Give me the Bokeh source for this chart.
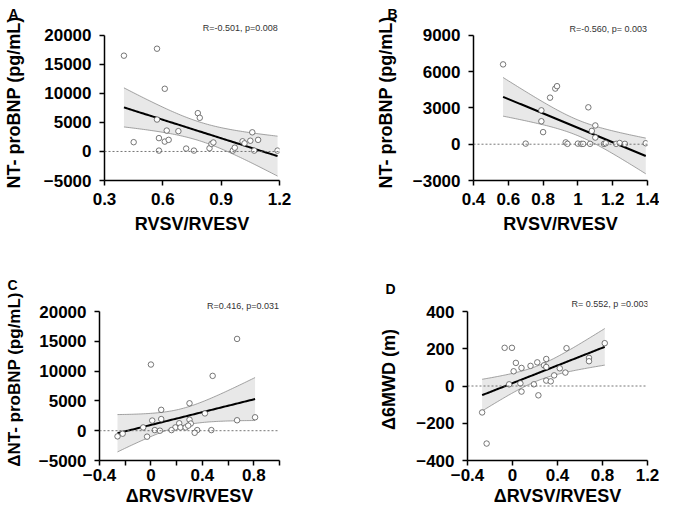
import numpy as np
from bokeh.plotting import figure
from bokeh.layouts import column, row
from bokeh.models import Span, Label, FixedTicker, Range1d
from bokeh.embed import file_html
from bokeh.resources import INLINE

# ---------------- data ----------------
A_x = [0.40, 0.57, 0.61, 0.78, 0.79, 0.57, 0.45, 0.58, 0.62, 0.61, 0.63, 0.68, 0.58, 0.72,
       0.76, 0.84, 0.85, 0.86, 0.96, 0.97, 1.01, 1.02, 1.05, 1.06, 1.09, 1.07, 1.19]
A_y = [16500, 17700, 10800, 6600, 5800, 5500, 1600, 2300, 3600, 1700, 2000, 3500, 150, 500,
       150, 550, 1300, 1550, 150, 650, 1750, 1400, 1850, 3300, 2000, 150, 150]

B_x = [0.57, 0.84, 0.87, 0.88, 0.79, 0.79, 0.80, 0.70, 0.93, 0.94, 1.00, 1.02, 1.03, 1.06,
       1.07, 1.08, 1.10, 1.10, 1.15, 1.16, 1.22, 1.24, 1.27, 1.39]
B_y = [6600, 3850, 4600, 4800, 2800, 1900, 1000, 50, 150, 30, 50, 30, 30, 3050,
       30, 1100, 1550, 550, 30, 80, 30, 100, 30, 80]

C_x = [0.67, 0.00, 0.48, 0.30, 0.08, 0.42, 0.01, 0.08, 0.67, 0.81, 0.30, 0.22, 0.31, 0.19,
       0.23, 0.27, 0.29, 0.16, 0.36, 0.34, 0.47, 0.03, 0.07, -0.06, -0.03, -0.26, -0.22]
C_y = [15400, 11100, 9200, 4600, 3500, 2900, 1700, 1950, 1750, 2250, 1850, 1250, 1200, 550,
       550, 550, 850, 100, 100, -350, 100, 100, 0, 550, -1000, -950, -500]

D_x = [-0.27, -0.23, -0.07, -0.005, -0.03, 0.01, 0.03, 0.07, 0.08, 0.08, 0.16, 0.19, 0.22,
       0.23, 0.28, 0.30, 0.30, 0.30, 0.34, 0.37, 0.42, 0.47, 0.48, 0.68, 0.68, 0.82]
D_y = [-142, -309, 205, 205, 9, 79, 124, 14, -30, 97, 108, 9, 127,
       -50, 111, 145, 102, 29, 25, 57, 95, 72, 203, 151, 133, 230]

A_xticks = [0.3, 0.6, 0.9, 1.2]
B_xticks = [0.4, 0.6, 0.8, 1.0, 1.2, 1.4]
C_xticks = [-0.4, 0.0, 0.4, 0.8]
C_xminor = [-0.2, 0.2, 0.6, 1.0]
D_xticks = [-0.4, 0.0, 0.4, 0.8, 1.2]
A_yticks = [-5000, 0, 5000, 10000, 15000, 20000]
B_yticks = [-3000, 0, 3000, 6000, 9000]
C_yticks = [-5000, 0, 5000, 10000, 15000, 20000]
D_yticks = [-400, -200, 0, 200, 400]

A_stat = "R=-0.501, p=0.008"
B_stat = "R=-0.560, p= 0.003"
C_stat = "R=0.416, p=0.031"
D_stat = "R= 0.552, p =0.003"

FONT = "Liberation Sans"
T_CRIT = 2.06


def panel(xs, ys, xlim, yticks, xticks, xminor, xlabel, ylabel, stat, stat_xy, stat_align,
          letter, letter_off, letter_std, width, height, bl, br, bt, bb, pad_px,
          ylab_std, ylab_size, x_std, xlab_std):
    xs = np.asarray(xs, float)
    ys = np.asarray(ys, float)
    frame_h = height - bt - bb
    span = yticks[-1] - yticks[0]
    y_top = yticks[-1] + span * pad_px / (frame_h - pad_px)
    p = figure(width=width, height=height, output_backend="svg", toolbar_location=None,
               x_range=Range1d(xlim[0], xlim[1]), y_range=Range1d(yticks[0], y_top),
               min_border_left=bl, min_border_right=br, min_border_top=bt,
               min_border_bottom=bb)
    p.outline_line_color = None
    p.xgrid.visible = False
    p.ygrid.visible = False
    p.background_fill_color = "white"
    p.border_fill_color = "white"

    # least-squares fit and 95% confidence band
    n = len(xs)
    b, a = np.polyfit(xs, ys, 1)
    res = ys - (a + b * xs)
    s = np.sqrt(np.sum(res ** 2) / (n - 2))
    mx = xs.mean()
    sxx = np.sum((xs - mx) ** 2)
    gx = np.linspace(xs.min(), xs.max(), 80)
    gy = a + b * gx
    half = T_CRIT * s * np.sqrt(1.0 / n + (gx - mx) ** 2 / sxx)
    p.varea(x=gx, y1=gy - half, y2=gy + half, fill_color="#e8e8e8")
    p.line(gx, gy + half, line_color="#8c8c8c", line_width=0.8)
    p.line(gx, gy - half, line_color="#8c8c8c", line_width=0.8)

    p.add_layout(Span(location=0, dimension="width", line_color="#666666",
                      line_dash="2 2", line_width=0.9))
    p.line(gx, gy, line_color="black", line_width=2)
    p.scatter(xs, ys, size=5.5, marker="circle", fill_color="white",
              line_color="#555555", line_width=0.8)

    for ax in (p.xaxis, p.yaxis):
        ax.axis_line_width = 1.5
        ax.axis_line_color = "black"
        ax.major_tick_line_width = 1.5
        ax.minor_tick_line_width = 1.5
        ax.major_tick_in = 0
        ax.major_tick_out = 5
        ax.minor_tick_in = 0
        ax.minor_tick_out = 0
        ax.major_label_text_font = FONT
        ax.major_label_text_font_style = "bold"
        ax.major_label_text_font_size = "17px"
        ax.major_label_text_color = "black"
        ax.axis_label_text_font = FONT
        ax.axis_label_text_font_style = "bold"
        ax.axis_label_text_color = "black"
    p.xaxis.axis_label_text_font_size = "18px"
    p.yaxis.axis_label_text_font_size = ylab_size
    p.xaxis.major_label_standoff = x_std
    p.yaxis.major_label_standoff = 8
    p.xaxis.ticker = FixedTicker(ticks=xticks, minor_ticks=xminor)
    if xminor:
        p.xaxis.minor_tick_out = 5
    p.yaxis.ticker = FixedTicker(ticks=yticks)
    p.xaxis.bounds = (xlim[0], xlim[1])
    p.yaxis.bounds = (yticks[0], yticks[-1])
    p.xaxis.axis_label = xlabel
    p.yaxis.axis_label = ylabel
    p.xaxis.axis_label_standoff = xlab_std
    p.yaxis.axis_label_standoff = ylab_std

    p.add_layout(Label(x=stat_xy[0], y=stat_xy[1], text=stat, text_font=FONT,
                       text_font_size="9px", text_color="#333333",
                       text_baseline="middle", text_align=stat_align))
    p.title.text = letter
    p.title.align = "left"
    p.title.offset = letter_off
    p.title.standoff = letter_std
    p.title.text_font = FONT
    p.title.text_font_style = "bold"
    p.title.text_font_size = "14px"
    p.title.text_color = "black"
    return p


pA = panel(A_x, A_y, (0.3, 1.2), A_yticks, A_xticks, [], "RVSV/RVESV",
           "NT- proBNP (pg/mL)", A_stat, (0.805, 21275), "left", "A", -96, 6,
           330, 240, 99, 51, 22, 60, 11, 17, "18px", 7, 6)
pB = panel(B_x, B_y, (0.4, 1.4), B_yticks, B_xticks, [], "RVSV/RVESV",
           "NT- proBNP (pg/mL)", B_stat, (1.397, 9490), "right", "B", -86, 6,
           329, 240, 143, 12, 22, 60, 11, 14, "18px", 7, 6)
pC = panel(C_x, C_y, (-0.4, 1.0), C_yticks, C_xticks, C_xminor, "\u0394RVSV/RVESV",
           "\u0394NT- proBNP (pg/mL)", C_stat, (0.997, 20900), "right", "C", -92, 11,
           330, 270, 99, 51, 58, 50, 13, 12, "17px", 3, 2)
pD = panel(D_x, D_y, (-0.4, 1.2), D_yticks, D_xticks, [], "\u0394RVSV/RVESV",
           "\u03946MWD (m)", D_stat, (0.524, 439), "left", "D", -82, 4,
           329, 270, 137, 12, 58, 50, 13, 14, "18px", 3, 2)

layout = column(row(pA, pB), row(pC, pD))
open("out.html", "w").write(file_html(layout, INLINE))
